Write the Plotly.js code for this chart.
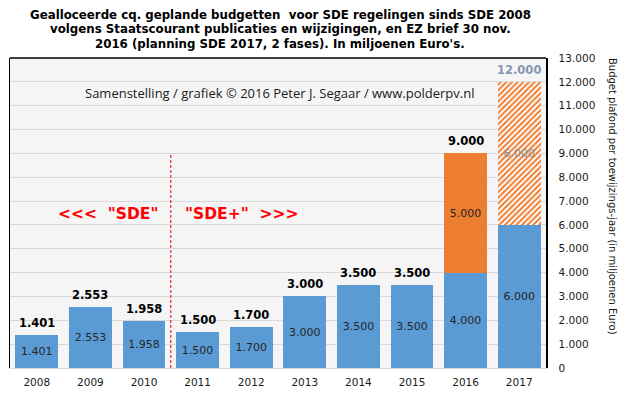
<!DOCTYPE html>
<html>
<head>
<meta charset="utf-8">
<script src="https://cdn.plot.ly/plotly-3.0.1.min.js"></script>
<style>html,body{margin:0;padding:0;background:#fff;}#chart{width:627px;height:393px;}</style>
</head>
<body>
<div id="chart"></div>
<script>
const categories = ['2008','2009','2010','2011','2012','2013','2014','2015','2016','2017'];
const basis = [1401, 2553, 1958, 1500, 1700, 3000, 3500, 3500, 4000, 6000];
const extra2016 = [null, null, null, null, null, null, null, null, 5000, null];
const planned2017 = [null, null, null, null, null, null, null, null, null, 6000];
const yTicks = [0,1000,2000,3000,4000,5000,6000,7000,8000,9000,10000,11000,12000,13000];
const titleLines = [
  'Gealloceerde cq. geplande budgetten  voor SDE regelingen sinds SDE 2008',
  'volgens Staatscourant publicaties en wijzigingen, en EZ brief 30 nov.',
  '2016 (planning SDE 2017, 2 fases). In miljoenen Euro\'s.'
];

const xIdx = categories.map((c,i) => i);
const totals = categories.map((c,i) => (basis[i]||0) + (extra2016[i]||0) + (planned2017[i]||0));
const fmt = v => v.toString().replace(/\B(?=(\d{3})+(?!\d))/g, '.');

const FONT = 'Verdana, "DejaVu Sans", sans-serif';
const common = {
  type: 'bar', x: xIdx, textposition: 'inside', insidetextanchor: 'middle',
  texttemplate: '%{y:,.0f}', constraintext: 'none', hoverinfo: 'skip',
  insidetextfont: {family: FONT, size: 11, color: '#262626'}
};
const traces = [
  Object.assign({}, common, {y: basis, marker: {color: '#5b9bd5'}}),
  Object.assign({}, common, {y: extra2016, marker: {color: '#ed7d31'}}),
  Object.assign({}, common, {y: planned2017, marker: {color: '#ffffff',
    pattern: {shape: '/', fgcolor: '#ed7d31', bgcolor: '#ffffff', size: 4, solidity: 0.5}},
    insidetextfont: {family: FONT, size: 11, color: '#8c8c8c'}})
];

const annotations = xIdx.map(i => ({
  x: i, y: totals[i], xref: 'x', yref: 'y', text: '<b>' + fmt(totals[i]) + '</b>',
  showarrow: false, yanchor: 'middle', yshift: 12,
  font: {family: FONT, size: 11.5, color: i === categories.length-1 ? '#8497b0' : '#000000'}
}));
titleLines.forEach((t, k) => annotations.push({
  xref: 'paper', yref: 'paper', x: 0.504, y: 1, yshift: 58 - (15 + 14.3*k), showarrow: false,
  xanchor: 'center', yanchor: 'middle', text: '<b>' + t + '</b>',
  font: {family: FONT, size: 11.8, color: '#000000'}
}));
annotations.push({
  xref: 'paper', yref: 'paper', x: 0.502, y: 0.887, showarrow: false, xanchor: 'center', yanchor: 'middle',
  text: 'Samenstelling / grafiek © 2016 Peter J. Segaar / www.polderpv.nl',
  font: {family: '"Open Sans", sans-serif', size: 13, color: '#1a1a1a'}
});
annotations.push({
  xref: 'x', yref: 'y', x: 2.32, y: 6450, showarrow: false, xanchor: 'right', yanchor: 'middle',
  text: '<b>&lt;&lt;&lt;&nbsp;&nbsp;"SDE"</b>', font: {family: FONT, size: 15.5, color: '#ff0000'}
});
annotations.push({
  xref: 'x', yref: 'y', x: 2.72, y: 6450, showarrow: false, xanchor: 'left', yanchor: 'middle',
  text: '<b>"SDE+"&nbsp;&nbsp;&gt;&gt;&gt;</b>', font: {family: FONT, size: 15.5, color: '#ff0000'}
});
annotations.push({
  xref: 'paper', yref: 'paper', x: 1, xshift: 66, y: 0.555, showarrow: false, xanchor: 'center', yanchor: 'middle',
  textangle: 90, text: 'Budget plafond per toewijzings-jaar (in miljoenen Euro)',
  font: {family: FONT, size: 10, color: '#1a1a1a'}
});

const layout = {
  width: 627, height: 393,
  margin: {l: 10, r: 81, t: 58, b: 25, pad: 0},
  paper_bgcolor: '#ffffff', plot_bgcolor: '#f5f5f5',
  separators: ',.',
  barmode: 'stack', bargap: 0.2, showlegend: false,
  xaxis: {
    range: [-0.5, categories.length - 0.5], tickvals: xIdx, ticktext: categories,
    showgrid: false, zeroline: false, showline: true, linecolor: '#d9d9d9', linewidth: 1,
    ticks: '', ticklabelstandoff: 4, tickfont: {family: FONT, size: 10.5, color: '#1a1a1a'}, fixedrange: true
  },
  yaxis: {
    side: 'right', range: [0, 13000], tickvals: yTicks, tickformat: ',d', separatethousands: true,
    showgrid: true, gridcolor: '#d9d9d9', gridwidth: 1, zeroline: false,
    showline: true, linecolor: '#000000', linewidth: 1.5, mirror: true,
    ticks: '', ticklabelstandoff: 9,
    tickfont: {family: FONT, size: 10.5, color: '#1a1a1a'}, fixedrange: true
  },
  shapes: [
    {type: 'line', xref: 'paper', yref: 'paper', x0: 0, x1: 1, y0: 1, y1: 1, line: {color: '#000000', width: 1.5}},
    {type: 'line', xref: 'x', yref: 'y', x0: 2.5, x1: 2.5, y0: 0, y1: 9000, line: {color: '#e00000', width: 1, dash: '3px,2px'}}
  ],
  annotations: annotations
};

Plotly.newPlot('chart', traces, layout, {staticPlot: true, displayModeBar: false});
</script>
</body>
</html>
